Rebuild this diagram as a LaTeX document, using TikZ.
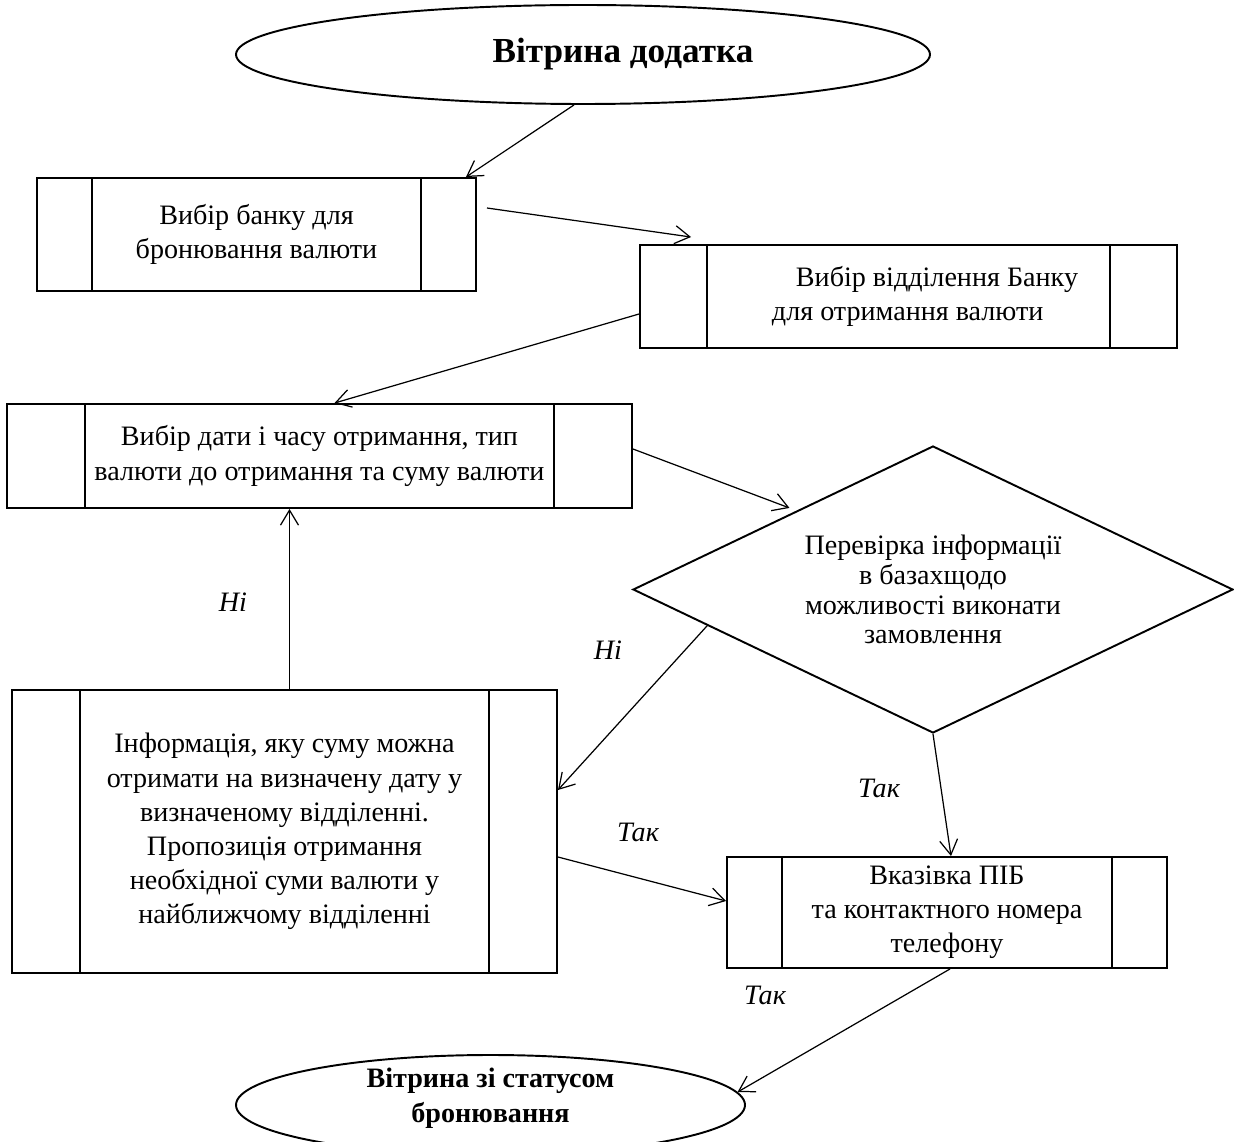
\documentclass[tikz,border=0pt]{standalone}
\usepackage{fontspec}
\setmainfont{Liberation Serif}
\usetikzlibrary{shapes.geometric,arrows.meta,calc}

\begin{document}
\begin{tikzpicture}[
    every node/.style={font=\fontsize{16}{19.4}\selectfont},
    process/.style={rectangle, draw, line width=1.1pt, inner sep=0pt, align=center,
        path picture={
            \draw[line width=0.8pt] ($(path picture bounding box.north west)!0.125!(path picture bounding box.north east)$) -- ($(path picture bounding box.south west)!0.125!(path picture bounding box.south east)$);
            \draw[line width=0.8pt] ($(path picture bounding box.north east)!0.125!(path picture bounding box.north west)$) -- ($(path picture bounding box.south east)!0.125!(path picture bounding box.south west)$);}},
    terminal/.style={ellipse, draw, line width=1.1pt, inner sep=0pt, align=center, font=\bfseries\fontsize{16}{19.8}\selectfont},
    decision/.style={diamond, aspect=2, draw, line width=1.1pt, inner sep=0pt, align=center, font=\fontsize{16}{17}\selectfont},
    arrow/.style={-{Straight Barb[length=3mm,width=3.6mm]}, line width=0.7pt},
    answer/.style={font=\itshape\fontsize{16}{19.4}\selectfont}]

    \useasboundingbox (0,0) rectangle (24.68,-22.84);

    \node[terminal, minimum width=13.88cm, minimum height=1.98cm, font=\bfseries\fontsize{20}{23}\selectfont] (showcase) at (11.66,-1.09) {\hspace*{1.6cm}Вітрина додатка};
    \node[process, minimum width=8.78cm, minimum height=2.26cm] (bank) at (5.13,-4.69) {Вибір банку для\\бронювання валюти};
    \node[process, minimum width=10.74cm, minimum height=2.06cm, align=left] (branch) at (18.17,-5.93) {\hspace*{1.14cm}Вибір відділення Банку\\\hspace*{0.66cm}для отримання валюти};
    \node[process, minimum width=12.5cm, minimum height=2.08cm] (datetime) at (6.39,-9.12) {Вибір дати і часу отримання, тип\\валюти до отримання та суму валюти};
    \node[decision, minimum width=12cm, minimum height=5.74cm] (check) at (18.66,-11.79) {Перевірка інформації\\в базахщодо\\можливості виконати\\замовлення};
    \node[process, minimum width=10.9cm, minimum height=5.66cm] (offer) at (5.69,-16.63) {Інформація, яку суму можна\\отримати на визначену дату у\\визначеному відділенні.\\Пропозиція отримання\\необхідної суми валюти у\\найближчому відділенні};
    \node[process, minimum width=8.8cm, minimum height=2.22cm] (contact) at (18.94,-18.25) {Вказівка ПІБ\\та контактного номера\\телефону};
    \node[terminal, minimum width=10.18cm, minimum height=2.0cm] (status) at (9.81,-22.1) {};
    \node[terminal, draw=none] (statustext) at ([yshift=0.14cm]status.center) {Вітрина зі статусом\\бронювання};

    \draw[arrow] ([xshift=-0.18cm]showcase.south) -- ([xshift=-0.22cm]bank.north east);
    \draw[arrow] ([xshift=0.2cm,yshift=0.53cm]bank.east) -- ([xshift=1.04cm,yshift=0.14cm]branch.north west);
    \draw[arrow] ([yshift=-0.35cm]branch.west) -- ([xshift=0.3cm]datetime.north);
    \draw[arrow] ([yshift=0.14cm]datetime.east) -- ($(check.west)!0.523!(check.north) + (0,0.12)$);
    \draw[arrow] ([xshift=0.1cm]offer.north) -- ([xshift=0.1cm]offer.north |- datetime.south);
    \draw[arrow] ($(check.west)!0.25!(check.south)$) -- ([yshift=0.83cm]offer.east);
    \draw[arrow] (check.south) -- ([xshift=0.08cm]contact.north);
    \draw[arrow] ([yshift=-0.51cm]offer.east) -- ([yshift=0.23cm]contact.west);
    \draw[arrow] ([xshift=0.06cm]contact.south) -- (status.3);

    \node[answer] (no1) at (4.66,-12.04) {Ні};
    \node[answer] (no2) at (12.16,-13.0) {Ні};
    \node[answer] (yes1) at (17.58,-15.76) {Так};
    \node[answer] (yes2) at (12.76,-16.64) {Так};
    \node[answer] (yes3) at (15.3,-19.9) {Так};
\end{tikzpicture}
\end{document}
